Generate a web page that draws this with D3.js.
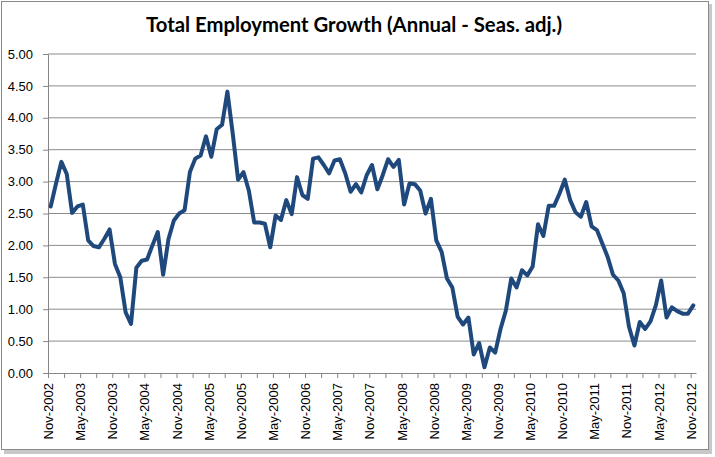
<!DOCTYPE html>
<html>
<head>
<meta charset="utf-8">
<script src="https://cdn.jsdelivr.net/npm/d3@7"></script>
<style>
  body { margin: 0; background: #fff; }
  .axis path, .axis line { stroke: #868686; }
  .axis text { font-family: "Liberation Sans", Arial, sans-serif; font-size: 13px; fill: #000; }
  .grid line { stroke: #8c8c8c; stroke-width: 1; }
  .line { fill: none; stroke: #1f497d; stroke-width: 4; stroke-linejoin: round; stroke-linecap: round; }
</style>
</head>
<body>
<script>

  // monthly values, Nov-2002 .. Nov-2012
  var growth = [
    2.61, 2.97, 3.31, 3.12, 2.51, 2.61, 2.64, 2.08, 1.99, 1.97, 2.10, 2.25,
    1.71, 1.50, 0.95, 0.77, 1.65, 1.76, 1.78, 2.00, 2.21, 1.54, 2.10, 2.39,
    2.50, 2.55, 3.15, 3.36, 3.41, 3.71, 3.39, 3.82, 3.89, 4.41, 3.75, 3.03,
    3.15, 2.86, 2.36, 2.36, 2.34, 1.97, 2.47, 2.40, 2.71, 2.49, 3.07, 2.79,
    2.73, 3.36, 3.38, 3.26, 3.13, 3.33, 3.35, 3.13, 2.84, 2.96, 2.83, 3.10,
    3.26, 2.88, 3.10, 3.35, 3.23, 3.34, 2.64, 2.97, 2.96, 2.86, 2.50, 2.73,
    2.08, 1.90, 1.48, 1.34, 0.88, 0.76, 0.87, 0.29, 0.47, 0.09, 0.40, 0.32,
    0.69, 0.98, 1.48, 1.34, 1.61, 1.53, 1.67, 2.33, 2.15, 2.62, 2.62, 2.81,
    3.03, 2.71, 2.52, 2.45, 2.68, 2.30, 2.24, 2.03, 1.82, 1.54, 1.45, 1.25,
    0.72, 0.43, 0.80, 0.69, 0.81, 1.06, 1.45, 0.87, 1.03, 0.97, 0.93, 0.93,
    1.06
  ];

  // one label every 6 months
  var tickLabels = [
    "Nov-2002", "May-2003", "Nov-2003", "May-2004", "Nov-2004", "May-2005",
    "Nov-2005", "May-2006", "Nov-2006", "May-2007", "Nov-2007", "May-2008",
    "Nov-2008", "May-2009", "Nov-2009", "May-2010", "Nov-2010", "May-2011",
    "Nov-2011", "May-2012", "Nov-2012"
  ];

  var yTicks = [0, 0.5, 1, 1.5, 2, 2.5, 3, 3.5, 4, 4.5, 5];

  var title = "Total Employment Growth (Annual - Seas. adj.)";

  var W = 715, H = 457;
  var margin = {top: 54, right: 19, bottom: 84, left: 48};

  var svg = d3.select("body").append("svg")
      .attr("width", W)
      .attr("height", H);

  // frame + shadow
  svg.append("rect")
      .attr("x", 4).attr("y", 4)
      .attr("width", 708).attr("height", 450)
      .attr("fill", "#c8c8c8");
  svg.append("rect")
      .attr("x", 1.5).attr("y", 1.5)
      .attr("width", 707).attr("height", 448)
      .attr("fill", "#fff")
      .attr("stroke", "#8a8a8a")
      .attr("stroke-width", 1);

  svg.append("text")
      .attr("x", 354)
      .attr("y", 32)
      .attr("text-anchor", "middle")
      .attr("font-family", "Lato, 'Open Sans', sans-serif")
      .attr("font-weight", "bold")
      .attr("font-size", "20.3px")
      .text(title);

  // months sit between ticks (Excel date axis)
  var x = d3.scaleLinear()
      .domain([0, growth.length])
      .range([margin.left, W - margin.right]);

  var y = d3.scaleLinear()
      .domain([0, 5])
      .range([H - margin.bottom, margin.top]);

  // gridlines
  svg.append("g")
      .attr("class", "grid")
      .selectAll("line")
      .data(yTicks.slice(1))
      .enter().append("line")
      .attr("x1", x.range()[0])
      .attr("x2", x.range()[1])
      .attr("y1", function(d) { return y(d); })
      .attr("y2", function(d) { return y(d); });

  // axis-y
  svg.append("g")
      .attr("class", "axis axis--y")
      .attr("transform", "translate(" + margin.left + ",0)")
      .call(d3.axisLeft(y)
        .tickValues(yTicks)
        .tickFormat(d3.format(".2f"))
        .tickSizeInner(5)
        .tickSizeOuter(0)
        .tickPadding(10));

  // axis-x
  var gx = svg.append("g")
      .attr("class", "axis axis--x")
      .attr("transform", "translate(0," + (H - margin.bottom) + ")")
      .call(d3.axisBottom(x)
        .tickValues(d3.range(0, growth.length, 3))
        .tickFormat(function(d) { return d % 6 === 0 ? tickLabels[d / 6] : ""; })
        .tickSizeInner(5)
        .tickSizeOuter(0));

  gx.selectAll("text")
      .attr("text-anchor", "end")
      .attr("transform", "rotate(-90)")
      .attr("x", -10)
      .attr("y", 0)
      .attr("dy", "0.35em");

  // line chart
  var line = d3.line()
      .x(function(d, i) { return x(i + 0.5); })
      .y(function(d) { return y(d); });

  svg.append("path")
      .attr("class", "line")
      .attr("d", line(growth));

</script>
</body>
</html>
